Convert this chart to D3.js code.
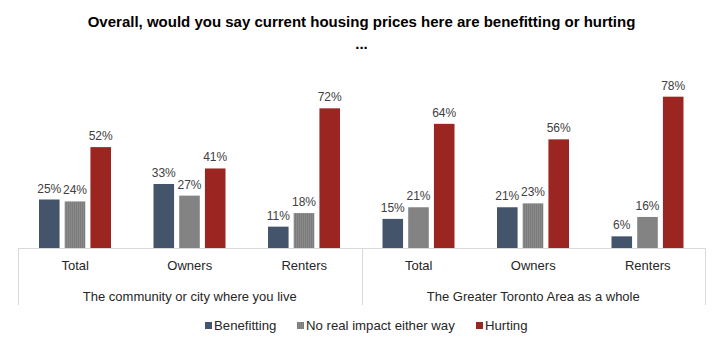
<!DOCTYPE html>
<html>
<head>
<meta charset="utf-8">
<script src="https://cdn.jsdelivr.net/npm/d3@7"></script>
<style>
  html, body { margin: 0; padding: 0; background: #fff; }
  svg { display: block; font-family: "Liberation Sans", Arial, sans-serif; }
</style>
</head>
<body>
<svg id="chart" width="723" height="348"></svg>
<script>
// Survey answers, in percent
const panels = ["The community or city where you live", "The Greater Toronto Area as a whole"];
const segments = ["Total", "Owners", "Renters"];
const seriesNames = ["Benefitting", "No real impact either way", "Hurting"];
const benefitting = [25, 33, 11, 15, 21, 6];
const noImpact    = [24, 27, 18, 21, 23, 16];
const hurting     = [52, 41, 72, 64, 56, 78];
const seriesColors = ["#44546a", "#858585", "#9b2521"];

const titleLines = ["Overall, would you say current housing prices here are benefitting or hurting", "..."];

const svg = d3.select("#chart");
const W = 723;
const left = 18, right = 705, baseY = 248;

// one row per panel/segment pair
const groups = [];
panels.forEach((p, pi) => segments.forEach((s, si) => {
  const i = pi * segments.length + si;
  groups.push({ key: p + "|" + s, panel: p, segment: s,
    values: [benefitting[i], noImpact[i], hurting[i]] });
}));

const x0 = d3.scaleBand().domain(groups.map(g => g.key)).range([left, right]).padding(0);
const x1 = d3.scaleBand().domain(seriesNames).range([21, 93]).paddingInner(0.2).paddingOuter(0);
const y = d3.scaleLinear().domain([0, 100]).range([baseY, baseY - 194]);
const color = d3.scaleOrdinal().domain(seriesNames).range(seriesColors);

// fine texture for the grey bars
const defs = svg.append("defs");
const pat = defs.append("pattern").attr("id", "greyTex")
  .attr("width", 2).attr("height", 2).attr("patternUnits", "userSpaceOnUse");
pat.append("rect").attr("width", 2).attr("height", 2).attr("fill", "#8a8a8a");
pat.append("rect").attr("width", 1).attr("height", 2).attr("fill", "#7c7c7c");

// title
svg.append("text")
  .attr("x", W / 2).attr("text-anchor", "middle")
  .attr("font-weight", "bold").attr("font-size", 15).attr("fill", "#000")
  .selectAll("tspan").data(titleLines).join("tspan")
  .attr("x", W / 2).attr("y", (d, i) => 27 + i * 22)
  .text(d => d);

// bars
const g = svg.append("g");
const grp = g.selectAll("g.grp").data(groups).join("g")
  .attr("class", "grp")
  .attr("transform", d => `translate(${x0(d.key)},0)`);

const cells = d => d.values.map((v, i) => ({ name: seriesNames[i], value: v }));

grp.selectAll("rect").data(cells).join("rect")
  .attr("x", d => x1(d.name))
  .attr("width", x1.bandwidth())
  .attr("y", d => y(d.value))
  .attr("height", d => y(0) - y(d.value))
  .attr("fill", d => d.name === seriesNames[1] ? "url(#greyTex)" : color(d.name));

grp.selectAll("text.val").data(cells).join("text")
  .attr("class", "val")
  .attr("x", d => x1(d.name) + x1.bandwidth() / 2)
  .attr("y", d => y(d.value) - 7)
  .attr("text-anchor", "middle")
  .attr("font-size", 12).attr("fill", "#404040")
  .text(d => d.value + "%");

// category axis
const axis = d3.axisBottom(x0).tickSize(0).tickPadding(13)
  .tickFormat(k => k.split("|")[1]);
const ax = svg.append("g").attr("transform", `translate(0,${baseY})`).call(axis);
ax.select(".domain").remove();
ax.selectAll("text").attr("font-size", 13).attr("fill", "#262626")
  .attr("font-family", "Liberation Sans, Arial, sans-serif");

// frame lines: baseline plus panel separators
const lineColor = "#d9d9d9";
svg.append("line").attr("x1", left).attr("x2", right).attr("y1", baseY + 0.5).attr("y2", baseY + 0.5)
  .attr("stroke", lineColor).attr("stroke-width", 1);
const panelEdges = [left, x0(groups[segments.length].key), right];
svg.selectAll("line.sep").data(panelEdges).join("line")
  .attr("class", "sep")
  .attr("x1", d => Math.round(d) + 0.5).attr("x2", d => Math.round(d) + 0.5)
  .attr("y1", baseY).attr("y2", 305)
  .attr("stroke", lineColor).attr("stroke-width", 1);

// panel labels
svg.selectAll("text.panel").data(panels).join("text")
  .attr("class", "panel")
  .attr("x", (d, i) => (panelEdges[i] + panelEdges[i + 1]) / 2)
  .attr("y", 301)
  .attr("text-anchor", "middle")
  .attr("font-size", 13).attr("fill", "#262626")
  .text(d => d);

// legend
const legendX = [205, 297, 476];
const lg = svg.selectAll("g.lg").data(seriesNames).join("g")
  .attr("class", "lg")
  .attr("transform", (d, i) => `translate(${legendX[i]},322)`);
lg.append("rect").attr("width", 7).attr("height", 7)
  .attr("fill", (d, i) => i === 1 ? "url(#greyTex)" : color(d));
lg.append("text").attr("x", 9).attr("y", 8)
  .attr("font-size", 13.2).attr("fill", "#262626")
  .text(d => d);
</script>
</body>
</html>
